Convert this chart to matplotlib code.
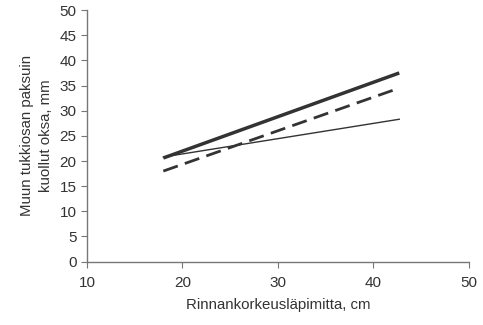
import matplotlib
matplotlib.use("Agg")
import matplotlib.pyplot as plt

plt.rcParams['font.family'] = ['Liberation Sans', 'DejaVu Sans']

# diameter range, cm
dbh = [18, 42.7]
# branch diameter, mm, three models
thick_line = [20.6, 37.5]
dashed_line = [18.0, 34.5]
thin_line = [20.8, 28.3]

fig = plt.figure(figsize=(4.83, 3.25), dpi=100)
ax = fig.add_axes([0.180, 0.195, 0.791, 0.774])

ax.plot(dbh, thick_line, color='#333333', lw=2.5, solid_capstyle='butt')
ax.plot(dbh, dashed_line, color='#333333', lw=2.0, ls=(0, (5.5, 2.7)))
ax.plot(dbh, thin_line, color='#333333', lw=1.0)

ax.set_xlim(10, 50)
ax.set_ylim(0, 50)
ax.set_xticks(range(10, 51, 10))
ax.set_yticks(range(0, 51, 5))

for s in ['top', 'right']:
    ax.spines[s].set_visible(False)
for s in ['left', 'bottom']:
    ax.spines[s].set_color('#777777')
    ax.spines[s].set_linewidth(1.0)
ax.tick_params(colors='#777777', labelcolor='#333333', labelsize=11, length=4)
ax.tick_params(axis='x', pad=6)

ax.set_xlabel("Rinnankorkeusläpimitta, cm", fontsize=10.8, color='#333333', labelpad=6)
ax.set_ylabel("Muun tukkiosan paksuin\nkuollut oksa, mm", fontsize=10.8,
              color='#333333', labelpad=5, linespacing=1.45)

fig.savefig("out.png", dpi=100)
